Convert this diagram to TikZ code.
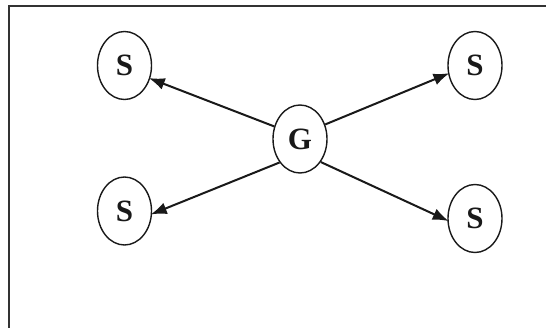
\documentclass[tikz,border=0pt]{standalone}
\usepackage{fontspec}
\setmainfont{Liberation Serif}
\usetikzlibrary{arrows.meta,shapes.geometric}
\begin{document}
\begin{tikzpicture}[x=1pt,y=-1pt,
  circ/.style={draw=black!90, line width=1.4pt, ellipse, minimum width=54pt, minimum height=68pt, inner sep=0pt,
    font=\fontsize{31}{31}\selectfont\bfseries, text=black!90},
  link/.style={draw=black!90, line width=2pt, shorten >=-1.5pt, -{Latex[length=16pt,width=12pt]}}]
\useasboundingbox (0,0) rectangle (546,328);
\fill[white] (0,0) rectangle (546,328);
\coordinate (fa) at (9,328);
\coordinate (fb) at (9,6);
\coordinate (fc) at (546,6);
\draw[black!80, line width=2pt] (fa) -- (fb) -- (fc);
\node[circ] (g) at (300,139) {G};
\node[circ] (tl) at (124.5,65.5) {S};
\node[circ] (tr) at (475,65.5) {S};
\node[circ] (bl) at (124.5,211) {S};
\node[circ] (br) at (475,218.5) {S};
\draw[link] (g.154.7) -- (tl.-27);
\draw[link] (g.30.6) -- (tr.-163);
\draw[link] (g.-131.5) -- (bl.-6);
\draw[link] (g.-48) -- (br.-176);
\end{tikzpicture}
\end{document}
